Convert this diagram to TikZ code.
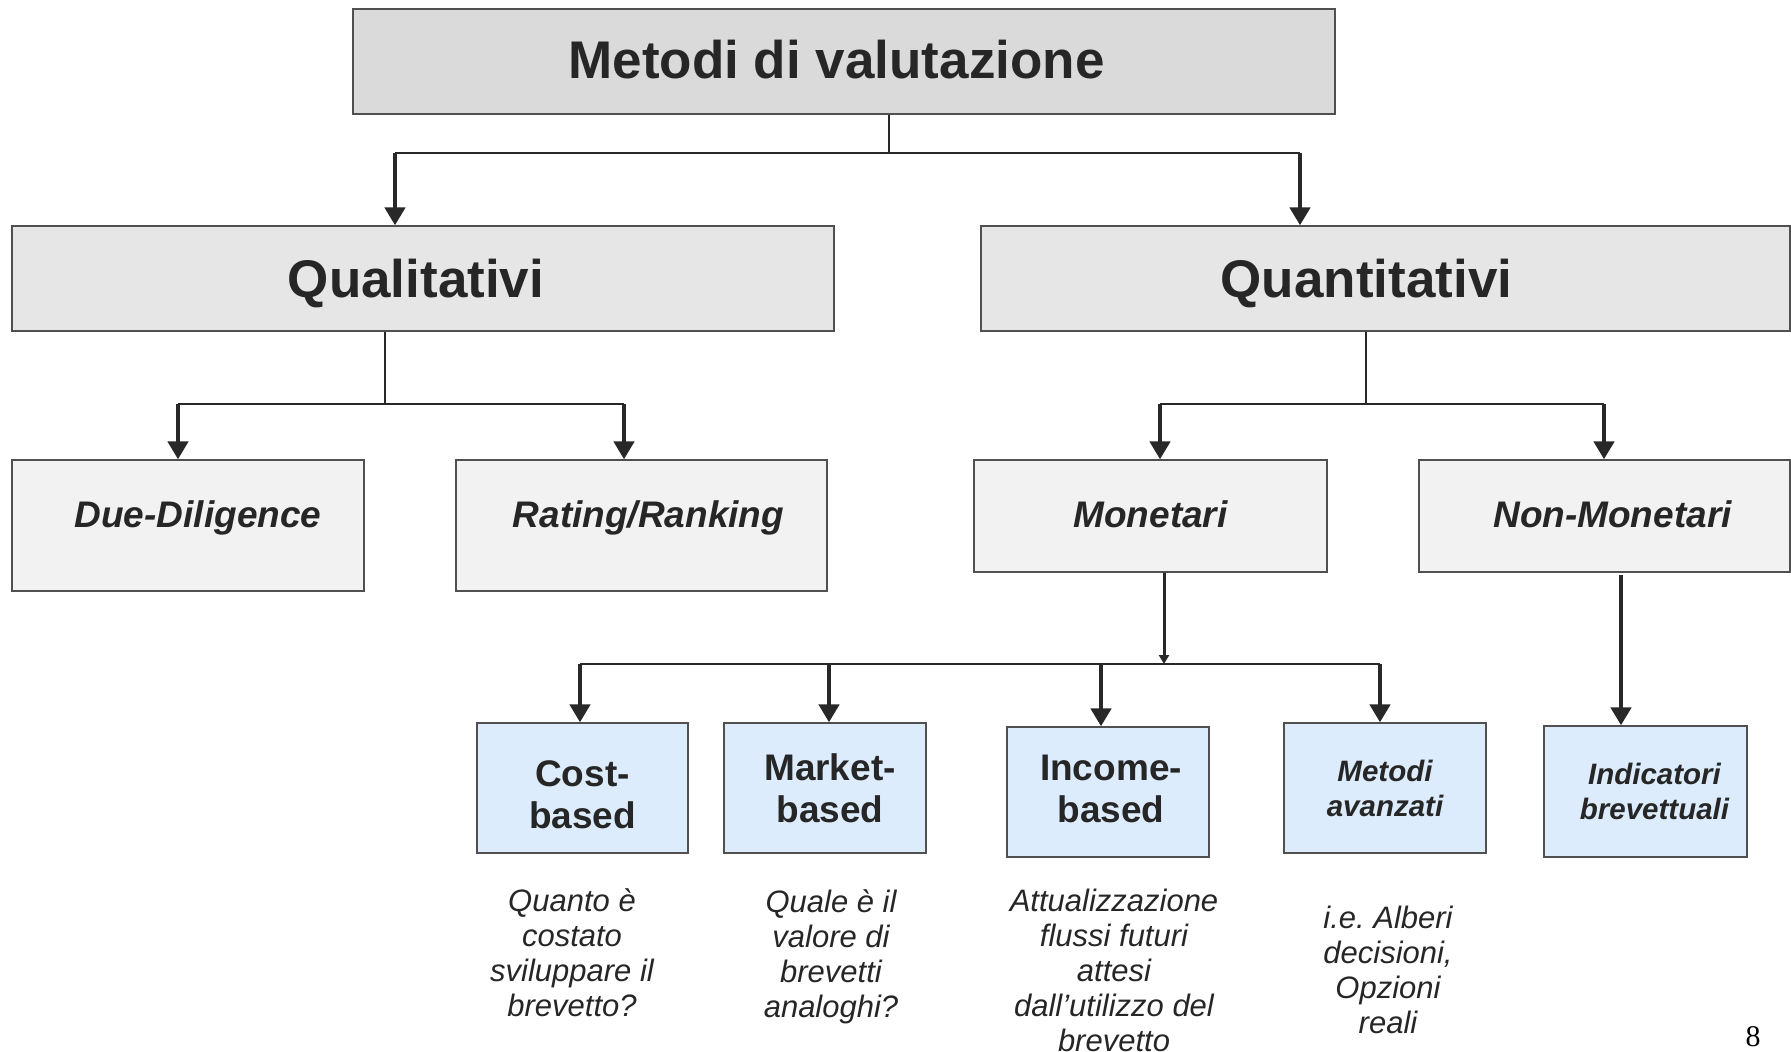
\documentclass[tikz,border=0pt]{standalone}
\usepackage{fontspec}
\setmainfont{Liberation Sans}
\newfontfamily\pagefont{Liberation Serif}
\usetikzlibrary{arrows.meta,positioning}
\definecolor{rootColor}{RGB}{218,218,218}
\definecolor{groupColor}{RGB}{230,230,230}
\definecolor{familyColor}{RGB}{242,242,242}
\definecolor{methodColor}{RGB}{220,236,252}
\definecolor{borderColor}{RGB}{80,80,80}
\definecolor{lineColor}{RGB}{40,40,40}
\definecolor{textColor}{RGB}{38,38,38}
\tikzset{box/.style={draw=borderColor, line width=1.3pt, inner sep=0pt, text=textColor}}
\tikzset{rootbox/.style={box, fill=rootColor, font=\fontsize{53}{60}\selectfont\bfseries, text height=38pt, text depth=0pt}}
\tikzset{groupbox/.style={box, fill=groupColor, font=\fontsize{53}{60}\selectfont\bfseries, text height=38pt, text depth=0pt}}
\tikzset{familybox/.style={box, fill=familyColor, font=\fontsize{37}{42}\selectfont\bfseries\itshape, text height=26.5pt, text depth=0pt}}
\tikzset{methodbox/.style={box, align=center, fill=methodColor, font=\fontsize{37}{42}\selectfont\bfseries}}
\tikzset{advbox/.style={methodbox, font=\fontsize{29.5}{35}\selectfont\bfseries\itshape}}
\tikzset{notetext/.style={align=center, inner sep=0pt, text=textColor, font=\fontsize{31}{35}\selectfont\itshape}}
% move the label inside its box: lift raises it, nudge pushes it sideways
\tikzset{lift/.style={text depth=#1}}
\tikzset{nudge/.style={execute at begin node={\hskip#1}, execute at end node={\hskip-#1}}}
\tikzset{stem/.style={draw=lineColor, line width=1.5pt}}
\tikzset{bus/.style={draw=lineColor, line width=2pt}}
\tikzset{arrow/.style={draw=lineColor, line width=4.5pt, -{Triangle[width=20pt,length=18pt]}}}
\tikzset{smallarrow/.style={draw=lineColor, line width=3pt, -{Triangle[width=10pt,length=9pt]}}}

\begin{document}
\begin{tikzpicture}[x=1pt, y=-1pt]
\useasboundingbox (0,0) rectangle (1791,1052);

% Nodes
\node (root) [rootbox, lift=4.6pt, nudge=-7.5pt, minimum width=982pt, minimum height=105pt] at (844,61.5) {Metodi di valutazione};

\node (qual) [groupbox, nudge=-7pt, minimum width=822pt, minimum height=105pt] at (423,278.5) {Qualitativi};
\node (quant) [groupbox, nudge=-19pt, minimum width=809pt, minimum height=105pt] at (1385.5,278.5) {Quantitativi};

\node (dd) [familybox, lift=23.5pt, nudge=10pt, minimum width=352pt, minimum height=131pt] at (188,525.5) {Due-Diligence};
\node (rank) [familybox, lift=23.5pt, nudge=7pt, minimum width=371pt, minimum height=131pt] at (641.5,525.5) {Rating/Ranking};
\node (mon) [familybox, lift=4.5pt, minimum width=353pt, minimum height=112pt] at (1150.5,516) {Monetari};
\node (nonmon) [familybox, lift=4.5pt, nudge=8pt, minimum width=371pt, minimum height=112pt] at (1604.5,516) {Non-Monetari};

\node (cost) [methodbox, minimum width=211pt, minimum height=130pt] at (582.5,788) {\rule{0pt}{39pt}Cost-\\based};
\node (market) [methodbox, minimum width=202pt, minimum height=130pt] at (825,788) {\hspace*{10pt}Market-\\\hspace*{10pt}based};
\node (income) [methodbox, minimum width=202pt, minimum height=130pt] at (1108,792) {\hspace*{6pt}Income-\\\hspace*{6pt}based\rule[-7pt]{0pt}{0pt}};
\node (adv) [advbox, minimum width=202pt, minimum height=130pt] at (1385,788) {Metodi\\avanzati};
\node (indic) [advbox, minimum width=203pt, minimum height=131pt] at (1645.5,791.5) {\hspace*{18pt}Indicatori\\\hspace*{18pt}brevettuali};

\node (costNote) [notetext] at (572,953) {Quanto è\\costato\\sviluppare il\\brevetto?};
\node (marketNote) [notetext] at (831,956.5) {Quale è il\\valore di\\brevetti\\analoghi?};
\node (incomeNote) [notetext] at (1114,970) {Attualizzazione\\flussi futuri\\attesi\\dall’utilizzo del\\brevetto};
\node (advNote) [notetext] at (1388,970) {i.e.\ Alberi\\decisioni,\\Opzioni\\reali};

\node (pageNum) [text=black, font=\fontsize{30}{30}\selectfont\pagefont] at (1753,1037) {8};

% Connectors
\coordinate (rootBus) at (889,153);
\coordinate (busQual) at (395,153);
\coordinate (busQuant) at (1300,153);
\draw [stem] (root.south -| rootBus) -- (rootBus);
\draw [bus] (busQual) -- (busQuant);
\draw [arrow] (busQual) -- (busQual |- qual.north);
\draw [arrow] (busQuant) -- (busQuant |- quant.north);

\coordinate (qualBus) at (385,404);
\coordinate (busDD) at (178,404);
\coordinate (busRank) at (624,404);
\draw [stem] (qual.south -| qualBus) -- (qualBus);
\draw [bus] (busDD) -- (busRank);
\draw [arrow] (busDD) -- (busDD |- dd.north);
\draw [arrow] (busRank) -- (busRank |- rank.north);

\coordinate (quantBus) at (1366,404);
\coordinate (busMon) at (1160,404);
\coordinate (busNonmon) at (1604,404);
\draw [stem] (quant.south -| quantBus) -- (quantBus);
\draw [bus] (busMon) -- (busNonmon);
\draw [arrow] (busMon) -- (busMon |- mon.north);
\draw [arrow] (busNonmon) -- (busNonmon |- nonmon.north);

\coordinate (monBus) at (1164,664);
\coordinate (busCost) at (580,664);
\coordinate (busMarket) at (829,664);
\coordinate (busIncome) at (1101,664);
\coordinate (busAdv) at (1380,664);
\draw [smallarrow] (mon.south -| monBus) -- (monBus);
\draw [bus] (busCost) -- (busAdv);
\foreach \target/\from in {cost/busCost, market/busMarket, income/busIncome, adv/busAdv}
  \draw [arrow] (\from) -- (\from |- \target.north);

\coordinate (nonmonOut) at (1621,575);
\draw [arrow] (nonmonOut) -- (nonmonOut |- indic.north);

\end{tikzpicture}
\end{document}
